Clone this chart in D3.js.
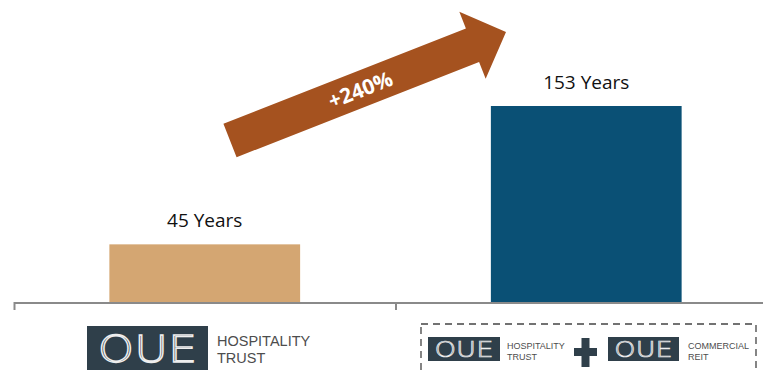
<!DOCTYPE html>
<html>
<head>
<meta charset="utf-8">
<script src="https://cdn.jsdelivr.net/npm/d3@7"></script>
<style>
  body { margin: 0; background: #fff; }
  svg { display: block; font-family: "Open Sans", sans-serif; }
</style>
</head>
<body>
<svg class="chart"></svg>
<script>
// chart data
var categories = ["OUE Hospitality Trust", "OUE Hospitality Trust + OUE Commercial REIT"];
var values = [45, 153];
var valueLabels = ["45 Years", "153 Years"];
var barColors = ["#d4a672", "#0a5075"];
var growthLabel = "+240%";

var width = 763, height = 370;
var baseY = 302;

var svg = d3.select(".chart")
    .attr("width", width)
    .attr("height", height);

var x = d3.scaleBand()
    .domain(categories)
    .range([14, 777])
    .padding(0);

var y = d3.scaleLinear()
    .domain([0, 153])
    .range([baseY, 106]);

var barW = x.bandwidth() * 0.5;

// bars
svg.selectAll("rect.bar")
    .data(values)
    .enter().append("rect")
    .attr("class", "bar")
    .attr("x", function(d, i) { return x(categories[i]) + (x.bandwidth() - barW) / 2; })
    .attr("y", function(d) { return y(d); })
    .attr("width", barW)
    .attr("height", function(d) { return y(0) - y(d); })
    .attr("fill", function(d, i) { return barColors[i]; });

// value labels
svg.selectAll("text.val")
    .data(values)
    .enter().append("text")
    .attr("class", "val")
    .attr("x", function(d, i) { return x(categories[i]) + x.bandwidth() / 2; })
    .attr("y", function(d) { return y(d) - 17; })
    .attr("text-anchor", "middle")
    .attr("font-size", 19)
    .attr("fill", "#111")
    .text(function(d, i) { return valueLabels[i]; });

// axis line + ticks at category edges
svg.append("line")
    .attr("x1", x.range()[0]).attr("x2", width)
    .attr("y1", baseY + 1).attr("y2", baseY + 1)
    .attr("stroke", "#8a8a8a").attr("stroke-width", 2);

svg.selectAll("line.tick")
    .data(categories)
    .enter().append("line")
    .attr("class", "tick")
    .attr("x1", function(d) { return x(d) + 0.5; })
    .attr("x2", function(d) { return x(d) + 0.5; })
    .attr("y1", baseY).attr("y2", baseY + 8)
    .attr("stroke", "#8a8a8a").attr("stroke-width", 2);

// growth arrow, from above bar 1 towards bar 2
var tail = [230, 140.5], tip = [506, 32];
var len = Math.hypot(tip[0] - tail[0], tip[1] - tail[1]);
var ang = Math.atan2(tip[1] - tail[1], tip[0] - tail[0]) * 180 / Math.PI;
var shaftH = 18, headH = 36, headL = 36;

var arrow = svg.append("g")
    .attr("transform", "translate(" + tail[0] + "," + tail[1] + ") rotate(" + ang + ")");

arrow.append("path")
    .attr("d", d3.line()([
        [0, -shaftH], [len - headL, -shaftH], [len - headL, -headH], [len, 0],
        [len - headL, headH], [len - headL, shaftH], [0, shaftH]
    ]) + "Z")
    .attr("fill", "#a5521f");

arrow.append("text")
    .attr("x", 140)
    .attr("y", 8)
    .attr("text-anchor", "middle")
    .attr("font-size", 21)
    .attr("font-weight", "bold")
    .attr("fill", "#fff")
    .text(growthLabel);

// logos under categories
function logo(g, bx, by, bw, bh, fs) {
    g.append("rect")
        .attr("x", bx).attr("y", by).attr("width", bw).attr("height", bh)
        .attr("fill", "#2f3f4a");
    g.append("text")
        .attr("x", bx + bw / 2).attr("y", by + bh / 2 + fs * 0.36)
        .attr("text-anchor", "middle")
        .attr("font-family", "DejaVu Sans, sans-serif")
        .attr("font-weight", 200)
        .attr("font-size", fs)
        .attr("textLength", bw * 0.82)
        .attr("lengthAdjust", "spacingAndGlyphs")
        .attr("fill", "#2f3f4a")
        .attr("stroke", "#eeeeee")
        .attr("stroke-width", fs / 30)
        .text("OUE");
}

function caption(g, tx, ty, lines, fs, gap) {
    g.selectAll(null)
        .data(lines)
        .enter().append("text")
        .attr("x", tx)
        .attr("y", function(d, i) { return ty + i * gap; })
        .attr("font-family", "Liberation Sans, sans-serif")
        .attr("font-size", fs)
        .attr("fill", "#4d4d4d")
        .text(function(d) { return d; });
}

var g1 = svg.append("g");
logo(g1, 87, 326, 121, 44, 38);
caption(g1, 217, 346, ["HOSPITALITY", "TRUST"], 14.5, 16.8);

var g2 = svg.append("g");
g2.append("rect")
    .attr("x", 421).attr("y", 324).attr("width", 335).attr("height", 60)
    .attr("fill", "none")
    .attr("stroke", "#444").attr("stroke-width", 1.3)
    .attr("stroke-dasharray", "7,5");
logo(g2, 428, 337, 72, 24, 22);
caption(g2, 507, 349, ["HOSPITALITY", "TRUST"], 9, 10.5);
// plus sign
g2.append("rect").attr("x", 574).attr("y", 348).attr("width", 23).attr("height", 8).attr("fill", "#2f3f4a");
g2.append("rect").attr("x", 581.5).attr("y", 338).attr("width", 8).attr("height", 29).attr("fill", "#2f3f4a");
logo(g2, 608, 337, 71, 24, 22);
caption(g2, 688, 349, ["COMMERCIAL", "REIT"], 9, 10.5);
</script>
</body>
</html>
